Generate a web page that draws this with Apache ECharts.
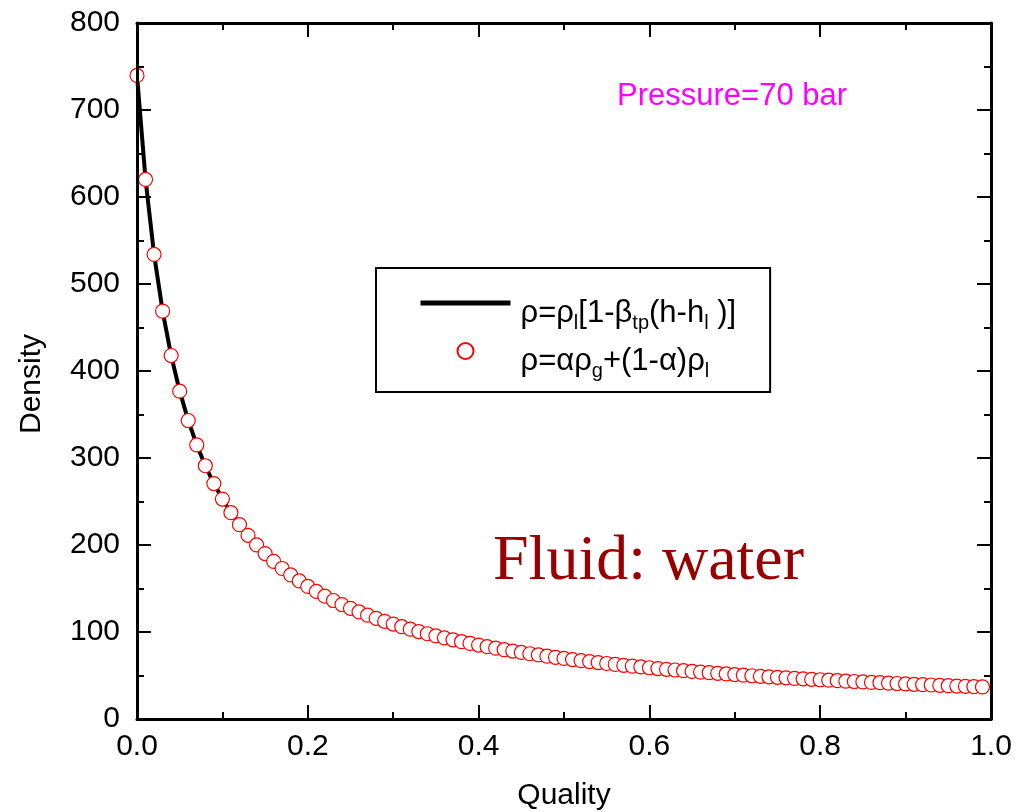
<!DOCTYPE html>
<html>
<head>
<meta charset="utf-8">
<script src="https://cdn.jsdelivr.net/npm/echarts@6/dist/echarts.min.js"></script>
<style>html,body{margin:0;padding:0;background:#fff;}#chart{width:1025px;height:812px;}</style>
</head>
<body>
<div id="chart"></div>
<script>
var quality = [0.00,0.01,0.02,0.03,0.04,0.05,0.06,0.07,0.08,0.09,
  0.10,0.11,0.12,0.13,0.14,0.15,0.16,0.17,0.18,0.19,
  0.20,0.21,0.22,0.23,0.24,0.25,0.26,0.27,0.28,0.29,
  0.30,0.31,0.32,0.33,0.34,0.35,0.36,0.37,0.38,0.39,
  0.40,0.41,0.42,0.43,0.44,0.45,0.46,0.47,0.48,0.49,
  0.50,0.51,0.52,0.53,0.54,0.55,0.56,0.57,0.58,0.59,
  0.60,0.61,0.62,0.63,0.64,0.65,0.66,0.67,0.68,0.69,
  0.70,0.71,0.72,0.73,0.74,0.75,0.76,0.77,0.78,0.79,
  0.80,0.81,0.82,0.83,0.84,0.85,0.86,0.87,0.88,0.89,
  0.90,0.91,0.92,0.93,0.94,0.95,0.96,0.97,0.98,0.99];
var density = [739.7,620.2,534.0,468.8,417.8,376.8,343.1,315.0,291.1,270.6,
  252.8,237.1,223.4,211.1,200.1,190.2,181.2,173.0,165.6,158.7,
  152.4,146.6,141.2,136.2,131.5,127.2,123.1,119.3,115.7,112.3,
  109.1,106.1,103.2,100.5,98.0,95.5,93.2,91.0,88.9,86.9,
  85.0,83.1,81.4,79.7,78.1,76.5,75.0,73.6,72.2,70.9,
  69.6,68.3,67.1,66.0,64.9,63.8,62.8,61.7,60.8,59.8,
  58.9,58.0,57.1,56.3,55.5,54.7,53.9,53.2,52.5,51.8,
  51.1,50.4,49.7,49.1,48.5,47.9,47.3,46.7,46.2,45.6,
  45.1,44.6,44.0,43.5,43.1,42.6,42.1,41.7,41.2,40.8,
  40.3,39.9,39.5,39.1,38.7,38.3,37.9,37.6,37.2,36.9];
var xTicks = [0.0, 0.2, 0.4, 0.6, 0.8, 1.0];
var yTicks = [0, 100, 200, 300, 400, 500, 600, 700, 800];
var nameLine = 'ρ=ρl[1-βtp(h-hl )]';
var nameDots = 'ρ=αρg+(1-α)ρl';

var pts = quality.map(function (q, i) { return [q, density[i]]; });

var chart = echarts.init(document.getElementById('chart'), null, {renderer: 'canvas'});
var FONT = '"Liberation Sans", Arial, sans-serif';
var P = 20;
var rich = {
  f: {fontSize: 31, fontFamily: FONT, color: '#000', lineHeight: 34, padding: [P, 0, 0, 5]},
  a: {fontSize: 31, fontFamily: FONT, color: '#000', lineHeight: 34, padding: [P, 0, 0, 0]},
  s: {fontSize: 20, fontFamily: FONT, color: '#000', lineHeight: 20, padding: [P + 20, 0, 0, 0]}
};
function axisBase() {
  return {
    type: 'value',
    axisLine: {show: true, onZero: false, lineStyle: {color: '#000', width: 3}},
    axisTick: {show: true, inside: true, length: 14, lineStyle: {color: '#000', width: 2}},
    minorTick: {show: true, splitNumber: 2, length: 7, lineStyle: {color: '#000', width: 2}},
    splitLine: {show: false},
    z: 5
  };
}
var option = {
  backgroundColor: '#fff',
  animation: false,
  grid: {left: 137, right: 34, top: 23, bottom: 93, containLabel: false, outerBoundsMode: 'none'},
  xAxis: [
    Object.assign(axisBase(), {
      position: 'bottom', min: xTicks[0], max: xTicks[xTicks.length - 1], interval: 0.2,
      name: 'Quality', nameLocation: 'middle', nameGap: 62,
      nameTextStyle: {fontSize: 30, fontFamily: FONT, color: '#000'},
      axisLabel: {show: true, margin: 13, fontSize: 30, fontFamily: FONT, color: '#000',
        formatter: function (v) { return v.toFixed(1); }}
    }),
    Object.assign(axisBase(), {
      position: 'top', min: xTicks[0], max: xTicks[xTicks.length - 1], interval: 0.2,
      axisLabel: {show: false}
    })
  ],
  yAxis: [
    Object.assign(axisBase(), {
      position: 'left', min: yTicks[0], max: yTicks[yTicks.length - 1], interval: 100,
      name: 'Density', nameLocation: 'middle', nameGap: 90, nameRotate: 90,
      nameTextStyle: {fontSize: 30, fontFamily: FONT, color: '#000', padding: [0, 26, 0, 0]},
      axisLabel: {show: true, margin: 17, fontSize: 30, fontFamily: FONT, color: '#000'}
    }),
    Object.assign(axisBase(), {
      position: 'right', min: yTicks[0], max: yTicks[yTicks.length - 1], interval: 100,
      axisLabel: {show: false}
    })
  ],
  legend: {
    orient: 'vertical',
    left: 376, top: 268,
    itemWidth: 90, itemHeight: 16,
    itemGap: -12,
    padding: [5, 34, 11, 42],
    borderColor: '#000', borderWidth: 2,
    data: [
      {name: nameLine, itemStyle: {opacity: 0}, lineStyle: {width: 5, color: '#000'}},
      {name: nameDots}
    ],
    formatter: function (n) {
      if (n === nameLine) return '{f|ρ=ρ}{s|l}{a|[1-β}{s|tp}{a|(h-h}{s|l}{a| )]}';
      return '{f|ρ=αρ}{s|g}{a|+(1-α)ρ}{s|l}';
    },
    textStyle: {fontSize: 31, fontFamily: FONT, color: '#000', rich: rich}
  },
  series: [
    {
      name: nameLine, type: 'line', data: pts, showSymbol: false, symbol: 'none',
      itemStyle: {color: '#000'},
      lineStyle: {color: '#000', width: 4}, z: 2, clip: false
    },
    {
      name: nameDots, type: 'scatter', data: pts, symbol: 'circle', symbolSize: 14,
      itemStyle: {color: '#fff', borderColor: '#ff0000', borderWidth: 1.2, opacity: 1}, z: 3
    }
  ],
  graphic: [
    {type: 'text', left: 617, top: 81, z: 10,
      style: {text: 'Pressure=70 bar', fill: '#ff00ff', font: '31px ' + FONT}},
    {type: 'text', left: 493, top: 530, z: 10,
      style: {text: 'Fluid: water', fill: '#990000', font: '64px "Liberation Serif", "Times New Roman", serif'}}
  ]
};
chart.setOption(option);
</script>
</body>
</html>
